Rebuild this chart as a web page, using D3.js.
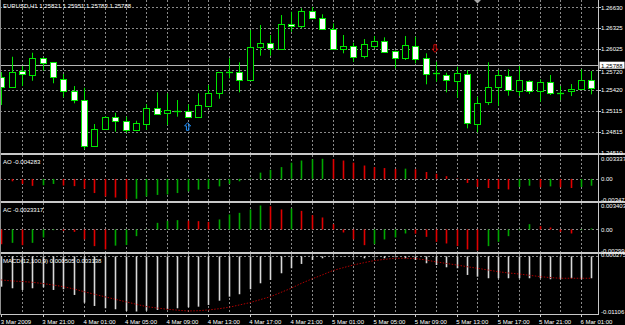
<!DOCTYPE html>
<html>
<head>
<meta charset="utf-8">
<script src="https://cdn.jsdelivr.net/npm/d3@7"></script>
<style>
  body { margin: 0; background: #000; }
  svg { display: block; }
  text { font-family: "Liberation Sans", Arial, sans-serif; font-size: 6px; fill: #fff; }
</style>
</head>
<body>
<svg id="chart" width="625" height="325"></svg>
<script>
// EURUSD H1, 3 Mar 17:00 .. 6 Mar 02:00 (one entry per bar)
var open = [1.25613,1.25468,1.25705,1.25653,1.25895,1.25828,1.25584,1.25414,1.25278,1.24612,
  1.24855,1.25035,1.24972,1.24830,1.24928,1.25166,1.25093,1.25118,1.25118,1.25026,
  1.25195,1.25376,1.25686,1.25682,1.25570,1.26055,1.26113,1.26022,1.26386,1.26361,
  1.26580,1.26469,1.26309,1.26022,1.26065,1.25909,1.26070,1.26138,1.25997,1.25895,
  1.26070,1.25886,1.25667,1.25638,1.25555,1.25657,1.24928,1.25253,1.25463,1.25632,
  1.25414,1.25559,1.25414,1.25545,1.25384,1.25409,1.25434,1.25570];
var high = [1.25686,1.25909,1.25774,1.25968,1.25900,1.25830,1.25657,1.25482,1.25457,1.24928,
  1.25040,1.25093,1.25035,1.24976,1.25215,1.25390,1.25376,1.25278,1.25215,1.25376,
  1.25497,1.25685,1.25886,1.25828,1.26299,1.26372,1.26226,1.26517,1.26565,1.26615,
  1.26635,1.26528,1.26396,1.26226,1.26113,1.26167,1.26211,1.26192,1.26000,1.26211,
  1.26201,1.25959,1.25836,1.25676,1.25764,1.25715,1.25326,1.25828,1.25715,1.25726,
  1.25774,1.25565,1.25580,1.25643,1.25482,1.25511,1.25726,1.25701];
var low = [1.25205,1.25460,1.25482,1.25559,1.25705,1.25522,1.25317,1.25230,1.24564,1.24597,
  1.24850,1.24816,1.24801,1.24825,1.24841,1.25080,1.24914,1.25035,1.25020,1.25020,
  1.25190,1.25297,1.25594,1.25390,1.25565,1.25924,1.25924,1.26018,1.26274,1.26323,
  1.26459,1.26305,1.26018,1.25959,1.25836,1.25886,1.26032,1.25978,1.25740,1.25861,
  1.25813,1.25507,1.25545,1.25390,1.25312,1.24865,1.24807,1.25205,1.25195,1.25341,
  1.25336,1.25366,1.25253,1.25351,1.25278,1.25336,1.25430,1.25361];
var close = [1.25468,1.25686,1.25657,1.25895,1.25828,1.25603,1.25414,1.25278,1.24612,1.24855,
  1.25035,1.24976,1.24841,1.24938,1.25157,1.25084,1.25132,1.25120,1.25026,1.25201,
  1.25384,1.25682,1.25690,1.25570,1.26046,1.26113,1.26041,1.26382,1.26357,1.26580,
  1.26484,1.26309,1.26022,1.26070,1.25909,1.26090,1.26138,1.25982,1.25895,1.26080,
  1.25876,1.25657,1.25665,1.25570,1.25667,1.24938,1.25230,1.25472,1.25643,1.25424,
  1.25570,1.25414,1.25545,1.25384,1.25386,1.25434,1.25570,1.25449];

var ao = [-0.00010,-0.00040,-0.00084,-0.00115,-0.00105,-0.00084,-0.00110,-0.00120,-0.00163,-0.00235,
  -0.00292,-0.00309,-0.00336,-0.00330,-0.00292,-0.00266,-0.00258,-0.00235,-0.00208,-0.00178,
  -0.00165,-0.00124,-0.00084,-0.00040,0.00008,0.00104,0.00151,0.00196,0.00269,0.00305,
  0.00325,0.003337,0.00328,0.00305,0.00270,0.00222,0.00195,0.00180,0.00166,0.00170,
  0.00160,0.00115,0.00085,0.00045,0.00008,-0.00067,-0.00134,-0.00151,-0.00168,-0.00175,
  -0.00134,-0.00113,-0.00140,-0.00124,-0.00141,-0.00151,-0.00134,-0.00113];
var ac = [-0.00210,-0.00190,-0.00223,-0.00190,-0.00114,-0.00010,-0.00020,-0.00034,-0.00142,-0.00237,
  -0.00284,-0.00230,-0.00222,-0.00095,-0.00005,0.00094,0.00122,0.00132,0.00125,0.00118,
  0.00108,0.00142,0.00213,0.00236,0.00284,0.003403,0.00330,0.00284,0.00298,0.00264,
  0.00203,0.00170,0.00075,-0.00043,-0.00142,-0.00223,-0.00209,-0.00142,-0.00114,-0.00057,
  -0.00060,-0.00105,-0.00176,-0.00199,-0.00237,-0.00284,-0.00299,-0.00237,-0.00176,-0.00095,
  -0.00010,0.00075,0.00047,0.00028,-0.00034,-0.00057,-0.00010,0.00014];
var macd = [-0.00608,-0.00640,-0.00674,-0.00640,-0.00620,-0.00674,-0.00660,-0.00774,-0.00929,-0.00995,
  -0.01041,-0.01061,-0.01095,-0.01106,-0.01090,-0.01075,-0.01061,-0.01041,-0.01021,-0.01009,
  -0.00975,-0.00889,-0.00808,-0.00760,-0.00660,-0.00540,-0.00473,-0.00339,-0.00239,-0.00152,
  -0.00072,-0.00038,-0.00018,-0.00006,-0.00018,-0.00038,-0.00018,-0.00038,-0.00018,-0.00038,
  -0.00072,-0.00138,-0.00173,-0.00219,-0.00239,-0.00373,-0.00407,-0.00439,-0.00439,-0.00439,
  -0.00439,-0.00439,-0.00439,-0.00459,-0.00459,-0.00439,-0.00459,-0.00439];
var signal = [-0.00473,-0.00493,-0.00504,-0.00520,-0.00544,-0.00574,-0.00608,-0.00654,-0.00708,-0.00760,
  -0.00810,-0.00861,-0.00909,-0.00959,-0.01007,-0.01035,-0.01061,-0.01079,-0.01095,-0.01091,
  -0.01075,-0.01051,-0.01021,-0.00975,-0.00929,-0.00869,-0.00808,-0.00724,-0.00640,-0.00540,
  -0.00453,-0.00373,-0.00287,-0.00229,-0.00173,-0.00128,-0.00086,-0.00060,-0.00038,-0.00038,
  -0.00042,-0.00072,-0.00110,-0.00142,-0.00173,-0.00207,-0.00239,-0.00273,-0.00307,-0.00333,
  -0.00353,-0.00379,-0.00405,-0.00425,-0.00439,-0.00439,-0.00439,-0.00439];

var priceTicks = [1.24510,1.24815,1.25115,1.25420,1.25720,1.26025,1.26325,1.26630];
var timeLabels = ["3 Mar 2009","3 Mar 21:00","4 Mar 01:00","4 Mar 05:00","4 Mar 09:00","4 Mar 13:00",
  "4 Mar 17:00","4 Mar 21:00","5 Mar 01:00","5 Mar 05:00","5 Mar 09:00","5 Mar 13:00",
  "5 Mar 17:00","5 Mar 21:00","6 Mar 01:00"];
var bid = 1.25788;
var header = "EURUSD,H1 1.25821 1.25951 1.25783 1.25788";
var arrowsUp = [{i: 18, price: 1.24889}];
var arrowsDown = [{i: 42, price: 1.26032}];
var shiftBar = 46;

var aoTicks = ["0.003337", "0.00", "-0.00347"], aoRange = [-0.00347, 0.003337];
var acTicks = ["0.003403", "0.00", "-0.00299"], acRange = [-0.00299, 0.003403];
var macdTicks = ["0.000275", "-0.01106"], macdRange = [-0.01106, 0.000275];

var plotRight = 598;
var panes = [
  {top: 0, bottom: 153},
  {top: 155, bottom: 201},
  {top: 203, bottom: 252},
  {top: 254, bottom: 314}
];

var x = d3.scaleLinear().domain([0, open.length - 1]).range([1.3, 591.3]);
var y = d3.scaleLinear().domain([1.24510, 1.26630]).range([152.7, 7.3]);
var yAO = d3.scaleLinear().domain(aoRange).range([199.8, 158.8]);
var yAC = d3.scaleLinear().domain(acRange).range([250.5, 205.5]);
var yMACD = d3.scaleLinear().domain(macdRange).range([311.5, 255]);

var svg = d3.select("#chart");
svg.append("rect").attr("width", 625).attr("height", 325).attr("fill", "#000");

var px = function(i) { return Math.round(x(i)) + 0.5; };
var grid = svg.append("g").attr("stroke", "#8a8a8a").attr("stroke-dasharray", "2,2").attr("stroke-width", 1);

// vertical grid every second bar, in every pane
d3.range(2, open.length, 2).forEach(function(i) {
  panes.forEach(function(p) {
    grid.append("line").attr("x1", px(i)).attr("x2", px(i))
      .attr("y1", p.top).attr("y2", p.bottom);
  });
});

// horizontal grid in the price pane
priceTicks.slice(1).forEach(function(t) {
  var yy = Math.round(y(t)) + 0.5;
  grid.append("line").attr("x1", 0).attr("x2", plotRight).attr("y1", yy).attr("y2", yy);
});

// zero lines of the indicators
[yAO, yAC, yMACD].forEach(function(s) {
  var yy = Math.round(s(0)) + 0.5;
  grid.append("line").attr("x1", 0).attr("x2", plotRight).attr("y1", yy).attr("y2", yy);
});

// bid line
var bidY = Math.round(y(bid)) + 0.5;
svg.append("line").attr("x1", 0).attr("x2", plotRight).attr("y1", bidY).attr("y2", bidY)
  .attr("stroke", "#b4b4b4").attr("stroke-width", 1);

// candles
var candles = svg.append("g");
open.forEach(function(o, i) {
  var c = close[i], cx = px(i);
  candles.append("line").attr("x1", cx).attr("x2", cx)
    .attr("y1", y(high[i])).attr("y2", y(low[i]))
    .attr("stroke", "#00e600").attr("stroke-width", 1);
  var yt = y(Math.max(o, c)), yb = y(Math.min(o, c));
  if (yb - yt < 1.2) {
    candles.append("line").attr("x1", cx - 3.5).attr("x2", cx + 3.5)
      .attr("y1", Math.round(yt) + 0.5).attr("y2", Math.round(yt) + 0.5)
      .attr("stroke", "#00e600").attr("stroke-width", 1.3);
  } else {
    candles.append("rect")
      .attr("x", cx - 3).attr("width", 6)
      .attr("y", Math.round(yt) + 0.5).attr("height", Math.round(yb - yt))
      .attr("fill", c < o ? "#ffffff" : "#000000")
      .attr("stroke", "#00e600").attr("stroke-width", 1);
  }
});

// arrows
arrowsUp.forEach(function(a) {
  var ax = x(a.i), ay = y(a.price);
  svg.append("path")
    .attr("d", "M0,-4L3,-0.8L1.2,-0.8L1.2,3.6L-1.2,3.6L-1.2,-0.8L-3,-0.8Z")
    .attr("transform", "translate(" + ax + "," + ay + ")")
    .attr("fill", "none").attr("stroke", "#1e90ff").attr("stroke-width", 1);
});
arrowsDown.forEach(function(a) {
  var ax = x(a.i) - 1, ay = y(a.price);
  svg.append("path")
    .attr("d", "M0,4L3,0.8L1.2,0.8L1.2,-3.6L-1.2,-3.6L-1.2,0.8L-3,0.8Z")
    .attr("transform", "translate(" + ax + "," + ay + ")")
    .attr("fill", "none").attr("stroke", "#d00000").attr("stroke-width", 1);
});

// chart shift marker
svg.append("path")
  .attr("d", "M-3.5,0L3.5,0L0,3.5Z")
  .attr("transform", "translate(" + px(shiftBar) + ",0)")
  .attr("fill", "#a8a8a8");

// AO and AC histograms: green when rising, red when falling
function histo(values, scale) {
  var g = svg.append("g").attr("stroke-width", 1.6);
  values.forEach(function(v, i) {
    var up = i > 0 && v > values[i - 1];
    g.append("line").attr("x1", px(i)).attr("x2", px(i))
      .attr("y1", scale(0)).attr("y2", scale(v))
      .attr("stroke", up ? "#00a800" : "#e00000");
  });
}
histo(ao, yAO);
histo(ac, yAC);

// MACD histogram + signal
var mg = svg.append("g").attr("stroke", "#d8d8d8").attr("stroke-width", 1.6);
macd.forEach(function(v, i) {
  mg.append("line").attr("x1", px(i)).attr("x2", px(i))
    .attr("y1", yMACD(0)).attr("y2", yMACD(v));
});
svg.append("path")
  .datum(signal)
  .attr("d", d3.line().x(function(d, i) { return x(i); }).y(function(d) { return yMACD(d); }))
  .attr("fill", "none").attr("stroke", "#b00000").attr("stroke-width", 1)
  .attr("stroke-dasharray", "1.5,1.5");

// pane separators and frame
[153, 201, 252].forEach(function(yy) {
  svg.append("rect").attr("x", 0).attr("y", yy).attr("width", 625).attr("height", 2).attr("fill", "#c8c8c8");
});
svg.append("line").attr("x1", 0).attr("x2", plotRight + 0.5).attr("y1", 314.5).attr("y2", 314.5)
  .attr("stroke", "#c8c8c8");
svg.append("line").attr("x1", plotRight + 0.5).attr("x2", plotRight + 0.5).attr("y1", 0).attr("y2", 315)
  .attr("stroke", "#c8c8c8");
svg.append("line").attr("x1", 0.5).attr("x2", 0.5).attr("y1", 0).attr("y2", 315)
  .attr("stroke", "#909090");

// price axis; the label right under the bid box is nudged down so it stays readable
var axis = svg.append("g");
priceTicks.forEach(function(t) {
  var yy = y(t);
  var ty = yy + 2.2;
  if (Math.abs(yy - bidY) < 8) ty = bidY + 8.6;
  axis.append("line").attr("x1", plotRight).attr("x2", plotRight + 3)
    .attr("y1", Math.round(yy) + 0.5).attr("y2", Math.round(yy) + 0.5).attr("stroke", "#c8c8c8");
  axis.append("text").attr("x", 601).attr("y", ty).text(t.toFixed(5));
});
axis.append("rect").attr("x", 599.5).attr("y", bidY - 3.8).attr("width", 25).attr("height", 7)
  .attr("fill", "#fff");
axis.append("text").attr("x", 601).attr("y", bidY + 2.2).style("fill", "#000").text(bid.toFixed(5));

function sideLabels(labels, scale, range) {
  var vals = labels.length === 3 ? [range[1], 0, range[0]] : [range[1], range[0]];
  labels.forEach(function(l, k) {
    axis.append("text").attr("x", 601).attr("y", scale(vals[k]) + 2.2).text(l);
  });
}
sideLabels(aoTicks, yAO, aoRange);
sideLabels(acTicks, yAC, acRange);
sideLabels(macdTicks, yMACD, macdRange);

// time axis
timeLabels.forEach(function(l, k) {
  var i = k * 4;
  svg.append("line").attr("x1", px(i)).attr("x2", px(i)).attr("y1", 314).attr("y2", 317)
    .attr("stroke", "#c8c8c8");
  svg.append("text").attr("x", x(i) - 0.5).attr("y", 323.5).text(l);
});

// titles
svg.append("text").attr("x", 3).attr("y", 7.5).text(header);
svg.append("text").attr("x", 3).attr("y", 164).text("AO -0.004283");
svg.append("text").attr("x", 3).attr("y", 211.5).text("AC -0.0023317");
svg.append("text").attr("x", 3).attr("y", 262.5).text("MACD(12,100,9) 0.000505 0.003138");
</script>
</body>
</html>
